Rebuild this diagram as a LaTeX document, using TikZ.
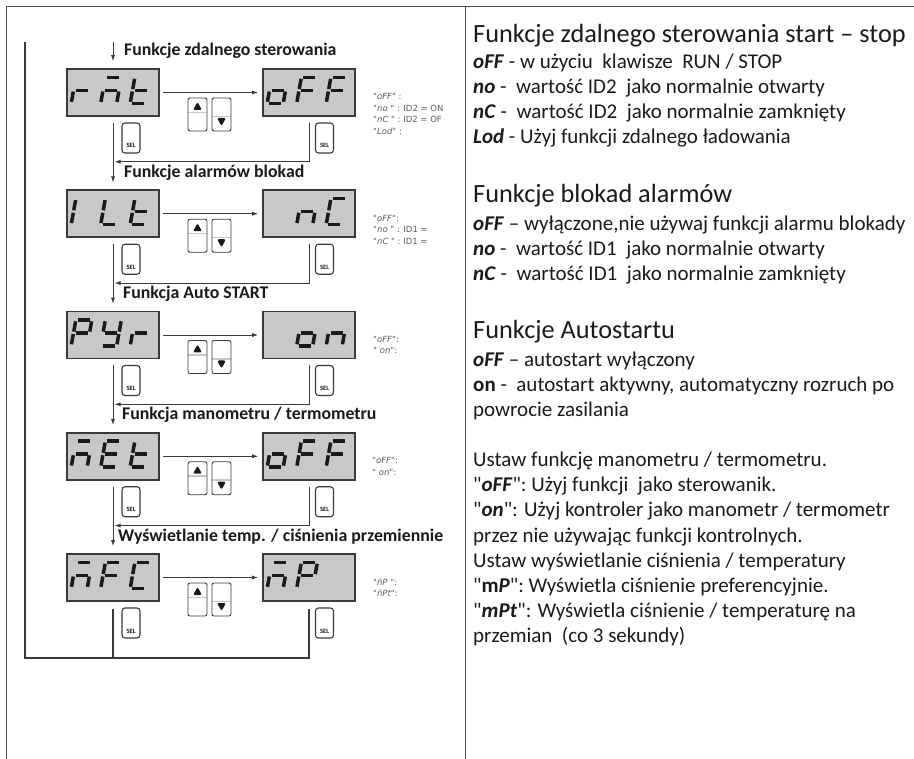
\documentclass[tikz,border=0pt]{standalone}
\usepackage{fontspec}
\setmainfont{Carlito}
\newfontfamily\notefont{DejaVu Sans}
\usetikzlibrary{arrows.meta}

\definecolor{panelink}{HTML}{1A1A1A}
\definecolor{frameline}{HTML}{505050}
\definecolor{lcdgray}{HTML}{C8C8C8}
\definecolor{lcdedge}{HTML}{3A3A3A}
\definecolor{notegray}{HTML}{5C5C5C}

% seven segment parts of one lcd cell (origin bottom left, y up)
\newcommand{\segA}{\draw[lcdseg] (2,26) -- (14,26);}
\newcommand{\segB}{\draw[lcdseg] (16,24.5) -- (16,14.2);}
\newcommand{\segC}{\draw[lcdseg] (16,11.8) -- (16,1.5);}
\newcommand{\segD}{\draw[lcdseg] (2,0) -- (14,0);}
\newcommand{\segE}{\draw[lcdseg] (0,1.5) -- (0,11.8);}
\newcommand{\segF}{\draw[lcdseg] (0,14.2) -- (0,24.5);}
\newcommand{\segG}{\draw[lcdseg] (2,13) -- (14,13);}
% glyphs
\newcommand{\glyphsp}{}
\newcommand{\glyphone}{\segE\segF}
\newcommand{\glyphr}{\segE\segG}
\newcommand{\glyphm}{\segA\segC\segE\segG}
\newcommand{\glypht}{\segD\segE\segF\segG}
\newcommand{\glypho}{\segC\segD\segE\segG}
\newcommand{\glyphF}{\segA\segE\segF\segG}
\newcommand{\glyphL}{\segD\segE\segF}
\newcommand{\glyphn}{\segC\segE\segG}
\newcommand{\glyphC}{\segA\segD\segE\segF}
\newcommand{\glyphP}{\segA\segB\segE\segF\segG}
\newcommand{\glyphy}{\segB\segC\segD\segF\segG}
\newcommand{\glyphE}{\segA\segD\segE\segF\segG}

\newcommand{\lcdchar}[3]{%
  \begin{scope}[shift={(#1.south west)}, xshift={5pt+29.5pt*(#2-1)},
      yshift=13.5pt, y=1pt, xslant=0.18]
    #3
  \end{scope}}
\newcommand{\lcdword}[2]{%
  \foreach \lcdc [count=\k] in {#2} {\lcdchar{#1}{\k}{\csname glyph\lcdc\endcsname}}}
\newcommand{\bitext}[1]{\textbf{\textit{#1}}}
\newcommand{\dq}[1]{\textquotedbl#1\textquotedbl}

\begin{document}
\begin{tikzpicture}[
  x=1pt,
  y=-1pt,
  every node/.style={text=panelink},
  tableline/.style={draw=frameline, line width=1pt},
  lcd/.style={draw=lcdedge, fill=lcdgray, line width=1.6pt,
    minimum width=92pt, minimum height=47pt, inner sep=0pt},
  lcdseg/.style={draw=panelink, line width=3.5pt},
  keycap/.style={draw=lcdedge, line width=0.9pt, rounded corners=2pt,
    fill=white, minimum width=19pt, minimum height=33pt, inner sep=0pt},
  keyup/.style={keycap, path picture={
    \fill[panelink] ([yshift=-4pt]path picture bounding box.north)
      -- ++(-4.5pt,-8pt) -- ++(9pt,0pt) -- cycle;
    \draw[black!22, line width=1.5pt]
      ([yshift=-14.5pt]path picture bounding box.north west)
      -- ([yshift=-14.5pt]path picture bounding box.north east);}},
  keydown/.style={keycap, path picture={
    \fill[panelink] ([yshift=5pt]path picture bounding box.south)
      -- ++(-4.5pt,8pt) -- ++(9pt,0pt) -- cycle;
    \draw[black!22, line width=1.5pt]
      ([yshift=14.5pt]path picture bounding box.south west)
      -- ([yshift=14.5pt]path picture bounding box.south east);}},
  selkey/.style={draw=lcdedge, line width=1.1pt, rounded corners=3pt,
    fill=white, minimum width=18pt, minimum height=30pt, inner sep=2pt,
    text height=20pt, text depth=0pt,
    font=\bfseries\fontsize{6.5}{7}\selectfont},
  flow/.style={draw=lcdedge, line width=0.9pt, -{Latex[length=6pt,width=4pt]}},
  loopline/.style={draw=lcdedge, line width=1.1pt},
  steptitle/.style={font=\bfseries\fontsize{17.8}{20}\selectfont,
    anchor=base west, inner sep=0pt},
  lcdnote/.style={font=\notefont\fontsize{8.5}{11.5}\selectfont, text=notegray,
    align=left, anchor=north west, inner sep=0pt},
  panelhead/.style={font=\fontsize{26.3}{30}\selectfont, anchor=base west,
    inner sep=0pt},
  panelbody/.style={font=\fontsize{21}{25}\selectfont, anchor=base west,
    inner sep=0pt}
]
  \useasboundingbox (0,0) rectangle (914,759);

  % ---- table lines -----------------------------------------------------
  \draw[tableline] (6,759) -- (6,7) -- (914,7);
  \draw[tableline] (465,7) -- (465,759);

  % ---- one row per parameter -------------------------------------------
  \foreach \r in {1,...,5} {
    \pgfmathsetmacro\rowy{69+121.25*(\r-1)}
    \node[lcd] (lcdL\r) at (113,\rowy+23.5) {};
    \node[lcd] (lcdR\r) at (309,\rowy+23.5) {};
    \node[keyup] (up\r) at (197.5,\rowy+45.5) {};
    \node[keydown] (down\r) at (221.5,\rowy+45.5) {};
    \node[selkey] (selL\r) at (131,\rowy+69) {SEL};
    \node[selkey] (selR\r) at (324.5,\rowy+69) {SEL};
    \draw[flow, shorten <=3pt, shorten >=4pt] (lcdL\r) -- (lcdR\r);
  }

  % ---- connectors between rows -----------------------------------------
  \coordinate (entry) at (113,42);
  \draw[flow] (entry) -- ([yshift=7pt]lcdL1.north);
  \foreach \r in {1,...,4} {
    \pgfmathtruncatemacro\nxt{\r+1}
    \draw[flow] ([yshift=-6pt]lcdL\r.south) -- ([yshift=7pt]lcdL\nxt.north);
    \draw[flow] ([yshift=-6pt]lcdR\r.south)
      |- ([xshift=1.5pt,yshift=-45pt]lcdL\r.south);
  }

  % ---- back to the start -----------------------------------------------
  \coordinate (loopTop) at (25,42);
  \coordinate (loopBase) at (25,658);
  \draw[loopline] (loopTop) -- (loopBase) -| ([yshift=-7pt]lcdR5.south);
  \draw[loopline] ([yshift=-7pt]lcdL5.south) -- (lcdL5.south |- loopBase);

  % ---- titles ------------------------------------------------------------
  \node[steptitle] (title1) at (124,56) {Funkcje zdalnego sterowania};
  \node[steptitle] (title2) at (124,177.25) {Funkcje alarmów blokad};
  \node[steptitle] (title3) at (123,298.5) {Funkcja Auto START};
  \node[steptitle] (title4) at (122,419.75) {Funkcja manometru / termometru};
  \node[steptitle] (title5) at (118,541) {Wyświetlanie temp. / ciśnienia przemiennie};

  % ---- display contents ------------------------------------------------
  \lcdword{lcdL1}{r,m,t}   \lcdword{lcdR1}{o,F,F}
  \lcdword{lcdL2}{one,L,t} \lcdword{lcdR2}{sp,n,C}
  \lcdword{lcdL3}{P,y,r}   \lcdword{lcdR3}{sp,o,n}
  \lcdword{lcdL4}{m,E,t}   \lcdword{lcdR4}{o,F,F}
  \lcdword{lcdL5}{m,F,C}   \lcdword{lcdR5}{m,P}

  % ---- settings next to the displays -----------------------------------
  \node[lcdnote] (note1) at (373,93.5)
    {{\itshape\dq{oFF}} :\\{\itshape\dq{no\ }} : ID2 = ON\\{\itshape\dq{nC\ }} : ID2 = OF\\{\itshape\dq{Lod}} :};
  \node[lcdnote] (note2) at (373,214.75)
    {{\itshape\dq{oFF}}:\\{\itshape\dq{no\ }} : ID1 =\\{\itshape\dq{nC\ }} : ID1 =};
  \node[lcdnote] (note3) at (373,336)
    {{\itshape\dq{oFF}}:\\{\itshape\dq{\ on}}:};
  \node[lcdnote] (note4) at (372,457.25)
    {{\itshape\dq{oFF}}:\\{\itshape\dq{\ on}}:};
  \node[lcdnote] (note5) at (373,578.5)
    {{\itshape\dq{\={n}P\ }}:\\{\itshape\dq{\={n}Pt}}:};

  % ---- description column ----------------------------------------------
  \node[panelhead] (head1) at (473,43) {Funkcje zdalnego sterowania start – stop};
  \foreach \t [count=\k] in {
      {\bitext{oFF} - w użyciu~ klawisze~ RUN / STOP},
      {\bitext{no} -~ wartość ID2~ jako normalnie otwarty},
      {\bitext{nC} -~ wartość ID2~ jako normalnie zamknięty},
      {\bitext{Lod} - Użyj funkcji zdalnego ładowania}}
    \node[panelbody] (desc1\k) at (473,44+25*\k) {\t};

  \node[panelhead] (head2) at (473,203) {Funkcje blokad alarmów};
  \foreach \t [count=\k] in {
      {\bitext{oFF} – wyłączone,nie używaj funkcji alarmu blokady},
      {\bitext{no} -~ wartość ID1~ jako normalnie otwarty},
      {\bitext{nC} -~ wartość ID1~ jako normalnie zamknięty}}
    \node[panelbody] (desc2\k) at (473,206+25*\k) {\t};

  \node[panelhead] (head3) at (473,339) {Funkcje Autostartu};
  \foreach \t [count=\k] in {
      {\bitext{oFF} – autostart wyłączony},
      {\textbf{on} -~ autostart aktywny, automatyczny rozruch po},
      {powrocie zasilania}}
    \node[panelbody] (desc3\k) at (473,342+25*\k) {\t};

  \foreach \t [count=\k] in {
      {Ustaw funkcję manometru / termometru.},
      {\dq{\bitext{oFF}}: Użyj funkcji~ jako sterowanik.},
      {\dq{\bitext{on}}: Użyj kontroler jako manometr / termometr},
      {przez nie używając funkcji kontrolnych.},
      {Ustaw wyświetlanie ciśnienia / temperatury},
      {\dq{\textbf{m\textit{P}}}: Wyświetla ciśnienie preferencyjnie.},
      {\dq{\bitext{mPt}}: Wyświetla ciśnienie / temperaturę na},
      {przemian~ (co 3 sekundy)}}
    \node[panelbody] (desc4\k) at (473,442+25*\k) {\t};
\end{tikzpicture}
\end{document}
